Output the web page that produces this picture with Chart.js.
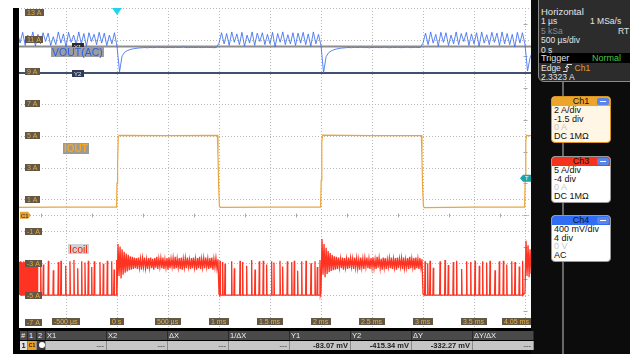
<!DOCTYPE html>
<html>
<head>
<meta charset="utf-8">
<script src="https://cdn.jsdelivr.net/npm/chart.js@4.4.1/dist/chart.umd.min.js"></script>
<style>
  body { margin: 0; width: 630px; height: 354px; position: relative; overflow: hidden; background: #fff;
         font-family: "Liberation Sans", Arial, sans-serif; }
  .abs { position: absolute; }
  #scope { position: absolute; left: 15px; top: 8px; width: 516px; height: 319px; }
  #lbar { left: 13px; top: 8px; width: 6px; height: 346px; background: #000; }
  #bottom { left: 13px; top: 328px; width: 520px; height: 26px; background: #000; }
  .name { font-size: 10.5px; line-height: 10px; padding: 0 1px; white-space: nowrap; }

  #side { left: 531px; top: 0; width: 99px; height: 354px; background: #0c0c0c; }
  #side .vline { left: 31px; top: 82px; width: 2px; height: 272px; background: #676767; }
  #hbox { left: 7px; top: -3px; width: 100px; height: 83px; background: #2c2c2c; border: 1px solid #8a8a8a;
          border-radius: 0 0 0 6px; color: #e4e4e4; font-size: 8.5px; }
  .hr { position: absolute; left: 2px; height: 10px; line-height: 10px; white-space: nowrap; }
  .trig { left: 0; top: 55px; width: 100px; height: 10px; line-height: 10px; background: #000; }
  .chbox { left: 20px; width: 58px; height: 45px; border: 1px solid #9a9a9a; border-radius: 4px; overflow: hidden;
           background: #fff; font-size: 9px; color: #111; }
  .chhead { position: relative; height: 9px; line-height: 9.5px; text-align: center; color: #111; }
  .minus { position: absolute; right: 1px; top: 1px; width: 12px; height: 7px; background: #5a84e8; border-radius: 2px; }
  .minus:after { content: ""; position: absolute; left: 3px; right: 3px; top: 3px; height: 1px; background: #fff; }
  .chbody div { padding-left: 2px; line-height: 8.7px; height: 8.7px; white-space: nowrap; }

  #tbl { left: 20px; top: 331px; width: 516px; height: 19px; font-size: 7.5px; }
  .cell { position: absolute; height: 9px; line-height: 9.5px; white-space: nowrap; overflow: hidden; box-sizing: border-box; }
  .hd { top: 0; background: #4a4a4a; color: #f0f0f0; padding-left: 1px; border-right: 1px solid #2a2a2a; }
  .vl { top: 9.5px; height: 9.5px; background: #c6c6c6; color: #222; text-align: right; padding-right: 2px;
        border-right: 1px solid #8a8a8a; font-weight: bold; }
</style>
</head>
<body>
<canvas id="scope" width="516" height="319"></canvas>
<div id="lbar" class="abs"></div>
<div id="bottom" class="abs"></div>

<div class="abs name" style="left:51px;top:47px;height:10px;background:#9d9d9d;color:#2c5fe6">VOUT(AC)</div>
<div class="abs name" style="left:63px;top:143px;height:11px;line-height:11px;background:#9a9a9a;color:#f5a623;font-weight:bold;font-size:10px">IOUT</div>
<div class="abs name" style="left:68px;top:244px;height:10px;background:#d2d2d2;color:#f21e0a">Icoil</div>

<div id="side" class="abs">
  <div class="abs vline"></div>
  <div id="hbox" class="abs">
    <div class="hr" style="top:9px;font-size:9.5px">Horizontal</div>
    <div class="hr" style="top:18px">1 µs</div><div class="hr" style="top:18px;left:51px">1 MSa/s</div>
    <div class="hr" style="top:27.5px;color:#8a8a8a">5 kSa</div><div class="hr" style="top:27.5px;left:79px">RT</div>
    <div class="hr" style="top:37px">500 µs/div</div>
    <div class="hr" style="top:47px">0 s</div>
    <div class="abs trig"><span style="padding-left:2px;font-size:9px">Trigger</span><span style="position:absolute;left:53px;color:#45c945;font-size:9px">Normal</span></div>
    <div class="hr" style="top:64.5px">Edge <svg width="9" height="8" style="vertical-align:-1px"><polyline points="0,7.5 4,7.5 4,0.5 9,0.5" stroke="#ddd" fill="none"/><polyline points="2,4 4,2 6,4" stroke="#ddd" fill="none"/></svg> <span style="color:#e3a032">Ch1</span></div>
    <div class="hr" style="top:73.5px">2.3323 A</div>
  </div>

  <div class="abs chbox" style="top:96px;border-color:#d9951e;background:#fff6e6">
    <div class="chhead" style="background:#eba42c">Ch1<span class="minus"></span></div>
    <div class="chbody"><div>2 A/div</div><div>-1.5 div</div><div style="color:#c8c8c8">0 A</div><div>DC 1MΩ</div></div>
  </div>
  <div class="abs chbox" style="top:156px">
    <div class="chhead" style="background:#f5321c">Ch3<span class="minus"></span></div>
    <div class="chbody"><div>5 A/div</div><div>-4 div</div><div style="color:#c8c8c8">0 A</div><div>DC 1MΩ</div></div>
  </div>
  <div class="abs chbox" style="top:215px">
    <div class="chhead" style="background:#2f6ef2">Ch4<span class="minus"></span></div>
    <div class="chbody"><div>400 mV/div</div><div>4 div</div><div style="color:#c8c8c8">0 V</div><div>AC</div></div>
  </div>
</div>

<div id="tbl" class="abs"></div>

<script>
// ---- channel settings (div units, 10 divisions high) ----
const ch1Scale = 2, ch1Pos = 3.5;      // IOUT   2 A/div, -1.5 div
const ch3Scale = 5, ch3Pos = 1;        // Icoil  5 A/div, -4 div
const ch4Scale = 400, ch4Pos = 9;      // VOUT   400 mV/div, 4 div (AC)
const trigLevel = 2.3323;              // A on Ch1
const cursorY1 = -83.07, cursorY2 = -415.34;   // mV on Ch4

// ---- axes ----
const gridTimes = [-1, -0.5, 0, 0.5, 1, 1.5, 2, 2.5, 3, 3.5, 4];      // ms, 500 us/div
const gridDivs = [0, 1, 2, 3, 4, 5, 6, 7, 8, 9, 10];
const timeTicks = [-0.5, 0, 0.5, 1, 1.5, 2, 2.5, 3, 3.5, 4];
const timeLabels = ['-500 µs', '0 s', '500 µs', '1 ms', '1.5 ms', '2 ms', '2.5 ms', '3 ms', '3.5 ms', '4.05 ms'];
const ch1Levels = [-7, -5, -3, -1, 1, 3, 5, 7, 9, 11, 13];

// ---- VOUT (AC), mV, sampled every 25 us from -1 ms ----
const voutStart = -1.0, voutStep = 0.025;
const voutMv = [
  // -1.0 .. 0 ms : PWM ripple
  -60, 80, -40, 95, -70, 60, -30, 100, -80, 70, -50, 90, -20, 85, -70, 40, -60, 100, -40, 75,
  -90, 95, -30, 60, -60, 100, -50, 80, -80, 90, -20, 70, -60, 95, -40, 85, -70, 60, -50, 90, -80,
  // 0 .. 1 ms : load step dip, then flat
  -400, -200, -155, -135, -122, -114, -108, -104, -100, -98, -96, -99, -94, -97, -95, -92, -96, -94, -98, -93,
  -95, -97, -92, -96, -94, -90, -95, -97, -93, -96, -94, -92, -97, -95, -93, -96, -94, -98, -95, -40,
  // 1 .. 2 ms : ripple
  90, -50, 80, -70, 100, -30, 75, -60, 95, -80, 60, -40, 100, -70, 85, -20, 90, -60, 70, -50,
  95, -90, 80, -30, 100, -60, 65, -50, 90, -70, 85, -40, 95, -60, 75, -80, 100, -50, 70, -70,
  // 2 .. 3 ms : dip, then flat
  -410, -210, -160, -138, -124, -115, -108, -103, -100, -97, -95, -98, -93, -96, -94, -92, -97, -95, -99, -94,
  -96, -93, -97, -95, -92, -96, -98, -94, -95, -93, -97, -96, -94, -92, -97, -95, -93, -96, -94, -40,
  // 3 .. 4 ms : ripple
  85, -60, 100, -40, 70, -80, 95, -30, 90, -70, 60, -50, 100, -60, 80, -20, 95, -70, 75, -50,
  90, -80, 100, -40, 65, -60, 95, -30, 85, -70, 100, -50, 80, -60, 70, -90, 95, -40, 90, -60,
  // 4 ms .. : dip
  -390, -220, -150
];

// ---- IOUT, A ----
const ioutT = [-1.0, -0.6, -0.2, -0.004, 0.0, 0.006, 0.012, 0.02, 0.5, 0.984, 0.99, 0.996, 1.004, 1.012, 1.5,
  1.996, 2.002, 2.008, 2.016, 2.5, 2.984, 2.99, 2.996, 3.004, 3.012, 3.5, 3.996, 4.002, 4.008, 4.016, 4.06];
const ioutA = [0.5, 0.52, 0.51, 0.52, 2.0, 3.2, 4.9, 5.02, 5.0, 5.02, 3.8, 2.0, 0.6, 0.5, 0.52,
  0.52, 2.2, 4.6, 5.03, 5.0, 5.0, 3.6, 1.8, 0.6, 0.49, 0.52, 0.52, 2.3, 4.7, 5.02, 5.0];

// ---- Icoil, A : DCM pulses (peak times / peaks) and CCM bands (every 10 us) ----
const pulsesAT = [-0.996, -0.984, -0.972, -0.96, -0.948, -0.936, -0.924, -0.912, -0.9, -0.888, -0.876, -0.864,
  -0.852, -0.84, -0.828, -0.816, -0.804, -0.792, -0.78,
  -0.748, -0.722, -0.673, -0.624, -0.575, -0.549, -0.503, -0.461, -0.422, -0.385, -0.346, -0.314, -0.281,
  -0.248, -0.222, -0.167, -0.134, -0.095, -0.052, -0.029, -0.003];
const pulsesAA = [5.2, 5.3, 5.1, 5.2, 5.3, 5.2, 5.1, 5.3, 5.2, 5.2, 5.3, 5.1, 5.2, 5.3, 5.2, 5.1, 5.3, 5.2, 5.3,
  5.3, 4.8, 5.4, 3.9, 5.2, 5.4, 4.6, 5.3, 5.5, 4.2, 5.3, 5.1, 5.4, 4.4, 5.3, 5.2, 4.9, 5.4, 5.3, 4.0, 5.5];
const band1 = [0.4, 8.0, 3.0, 7.6, 2.6, 7.2, 3.2, 6.8, 3.5, 6.5, 3.7, 6.3, 3.9, 6.1, 4.0, 6.0, 4.1, 5.9,
  4.2, 5.8, 4.1, 5.9, 4.3, 5.7, 4.0, 5.8, 4.4, 5.9, 4.2, 5.6, 4.1, 5.8, 4.3, 5.9, 4.2, 5.7, 4.0, 5.8,
  4.3, 6.0, 4.1, 5.7, 4.4, 5.8, 4.2, 5.9, 4.1, 5.6, 4.3, 5.8, 4.0, 5.9, 4.2, 5.7, 4.4, 5.8, 4.1, 6.0,
  4.2, 5.7, 4.3, 5.8, 4.1, 5.9, 4.0, 5.7, 4.3, 5.8, 4.2, 5.9, 4.4, 5.6, 4.1, 5.8, 4.2, 5.9, 4.3, 5.7,
  4.0, 5.8, 4.2, 6.0, 4.1, 5.7, 4.3, 5.8, 4.2, 5.9, 4.4, 5.7, 4.1, 5.8, 4.2, 5.9, 4.0, 5.7, 4.3, 5.8,
  4.2, 5.6, 0.2];
const pulsesBT = [1.010, 1.036, 1.059, 1.124, 1.150, 1.206, 1.232, 1.271, 1.320, 1.353, 1.395, 1.434, 1.467, 1.516,
  1.539, 1.598, 1.624, 1.670, 1.713, 1.738, 1.771, 1.811, 1.853, 1.902, 1.941, 1.964, 1.990];
const pulsesBA = [5.4, 5.2, 4.9, 5.3, 4.2, 5.4, 5.2, 4.6, 5.5, 4.0, 5.3, 5.4, 4.8, 5.3, 5.1, 5.4, 4.5, 5.3, 5.2, 5.4,
  3.8, 5.3, 5.4, 5.0, 5.3, 4.4, 5.5];
const band2 = [0.4, 8.8, 3.2, 8.0, 2.8, 7.4, 3.3, 6.9, 3.6, 6.6, 3.8, 6.3, 3.9, 6.1, 4.0, 6.0, 4.1, 5.9,
  4.3, 5.7, 4.2, 5.9, 4.0, 5.8, 4.3, 5.7, 4.1, 5.9, 4.2, 5.8, 4.4, 5.7, 4.1, 5.9, 4.3, 5.8, 4.2, 5.6,
  4.0, 5.9, 4.3, 5.7, 4.1, 5.8, 4.4, 5.9, 4.2, 5.7, 4.1, 5.8, 4.3, 5.9, 4.2, 5.6, 4.1, 6.0, 4.3, 5.8,
  4.2, 5.7, 4.0, 5.9, 4.3, 5.8, 4.1, 5.6, 4.4, 5.8, 4.2, 5.9, 4.1, 5.7, 4.3, 5.8, 4.0, 5.9, 4.2, 5.7,
  4.4, 5.8, 4.1, 5.9, 4.2, 5.6, 4.3, 5.8, 4.1, 6.0, 4.2, 5.7, 4.3, 5.8, 4.0, 5.9, 4.2, 5.7, 4.1, 5.8,
  4.3, 5.6, 0.2];
const pulsesCT = [3.020, 3.046, 3.069, 3.101, 3.167, 3.216, 3.248, 3.297, 3.330, 3.379, 3.428, 3.468, 3.510, 3.552,
  3.585, 3.624, 3.657, 3.706, 3.748, 3.788, 3.821, 3.870, 3.902, 3.944, 3.977];
const pulsesCA = [5.3, 5.0, 5.4, 4.3, 5.3, 5.5, 4.7, 5.2, 5.4, 4.1, 5.3, 5.2, 5.4, 4.6, 5.3, 5.1, 5.4, 3.9, 5.3, 5.4,
  4.8, 5.3, 5.2, 4.5, 5.4];
const band3 = [0.4, 8.5, 3.0, 7.8, 2.8, 7.2, 3.3];
const bandStep = 0.01;

// ---- cursor table ----
const cursorHeads = ['X1', 'X2', 'ΔX', '1/ΔX', 'Y1', 'Y2', 'ΔY', 'ΔY/ΔX'];
const cursorVals = ['---', '---', '---', '---', '-83.07 mV', '-415.34 mV', '-332.27 mV', '---'];

// build the Icoil trace
const icoilPts = [{ x: -1.0, y: 0 }];
function addPulses(times, amps) {
  times.forEach((t, i) => {
    icoilPts.push({ x: t - 0.004, y: 0 }, { x: t, y: amps[i] }, { x: t + 0.004, y: 0 });
  });
}
function addBand(t0, vals) {
  vals.forEach((v, i) => icoilPts.push({ x: t0 + i * bandStep, y: v }));
}
addPulses(pulsesAT, pulsesAA);
addBand(0, band1);
addPulses(pulsesBT, pulsesBA);
addBand(2, band2);
addPulses(pulsesCT, pulsesCA);
addBand(4, band3);

const icoilDiv = icoilPts.map(p => ({ x: p.x, y: ch3Pos + p.y / ch3Scale }));
const ioutDiv = ioutT.map((t, i) => ({ x: t, y: ch1Pos + ioutA[i] / ch1Scale }));
const voutDiv = voutMv.map((v, i) => ({ x: voutStart + i * voutStep, y: ch4Pos + v / ch4Scale }));

function tagBox(ctx, text, x, cy, bg, fg, center) {
  const w = Math.ceil(ctx.measureText(text).width) + 4, h = 7;
  let left = center ? x - w / 2 : x;
  left = Math.round(Math.max(1, Math.min(left, ctx.canvas.width - w)));
  const top = Math.round(cy - h / 2);
  ctx.fillStyle = bg;
  ctx.fillRect(left, top, w, h);
  ctx.fillStyle = fg;
  ctx.fillText(text, left + 2, top + h / 2 + 0.5);
}

// grid, cursors, markers and scope labels
const scopeDecor = {
  id: 'scopeDecor',
  beforeDatasetsDraw(chart) {
    const { ctx, chartArea: a, scales: { x, y } } = chart;
    ctx.save();
    ctx.lineWidth = 1;
    ctx.strokeStyle = '#b8b8b8';
    ctx.setLineDash([1, 2]);
    gridTimes.forEach(t => {
      const px = Math.round(x.getPixelForValue(t)) + 0.5;
      ctx.beginPath(); ctx.moveTo(px, a.top); ctx.lineTo(px, a.bottom); ctx.stroke();
    });
    gridDivs.forEach(d => {
      const py = Math.round(y.getPixelForValue(d)) + 0.5;
      ctx.beginPath(); ctx.moveTo(a.left, py); ctx.lineTo(a.right, py); ctx.stroke();
    });
    // Ch1 reference line with half-division ticks
    const gy = Math.round(y.getPixelForValue(ch1Pos)) + 0.5;
    ctx.beginPath(); ctx.moveTo(a.left, gy); ctx.lineTo(a.right, gy); ctx.stroke();
    ctx.setLineDash([]);
    ctx.strokeStyle = '#a8a8a8';
    for (let t = -0.75; t < 4; t += 0.5) {
      const px = Math.round(x.getPixelForValue(t)) + 0.5;
      ctx.beginPath(); ctx.moveTo(px, gy - 2); ctx.lineTo(px, gy + 2); ctx.stroke();
    }
    const rx = Math.round(x.getPixelForValue(4)) + 0.5;
    for (let d = 0.5; d < 10; d += 1) {
      const py = Math.round(y.getPixelForValue(d)) + 0.5;
      ctx.beginPath(); ctx.moveTo(rx - 2, py); ctx.lineTo(rx + 2, py); ctx.stroke();
    }
    // horizontal cursors
    ctx.lineWidth = 2;
    ctx.strokeStyle = '#8e8e8e';
    let cy = y.getPixelForValue(ch4Pos + cursorY1 / ch4Scale);
    ctx.beginPath(); ctx.moveTo(a.left, cy); ctx.lineTo(a.right, cy); ctx.stroke();
    ctx.strokeStyle = '#40506e';
    cy = y.getPixelForValue(ch4Pos + cursorY2 / ch4Scale);
    ctx.beginPath(); ctx.moveTo(a.left, cy); ctx.lineTo(a.right, cy); ctx.stroke();
    ctx.restore();
  },
  afterDatasetsDraw(chart) {
    const { ctx, chartArea: a, scales: { x, y } } = chart;
    ctx.save();
    ctx.font = '7px "Liberation Sans", Arial, sans-serif';
    ctx.textBaseline = 'middle';
    // Ch1 level labels
    ch1Levels.forEach(v => {
      let py = y.getPixelForValue(ch1Pos + v / ch1Scale);
      py = Math.max(a.top + 4, Math.min(py, a.bottom - 4.5));
      tagBox(ctx, v + ' A', 10, py, '#615848', '#e8a740', false);
    });
    // time labels
    timeTicks.forEach((t, i) => {
      tagBox(ctx, timeLabels[i], x.getPixelForValue(t), a.bottom - 5.5, '#615848', '#eeb040', true);
    });
    // cursor tags
    ctx.font = '6px "Liberation Sans", Arial, sans-serif';
    tagBox(ctx, 'Y1', 57, y.getPixelForValue(ch4Pos + cursorY1 / ch4Scale), '#2c2c2c', '#eee', false);
    tagBox(ctx, 'Y2', 57, y.getPixelForValue(ch4Pos + cursorY2 / ch4Scale), '#2e3a58', '#eee', false);
    // trigger position marker
    const tx = x.getPixelForValue(0);
    ctx.fillStyle = '#22d3e6';
    ctx.beginPath(); ctx.moveTo(tx - 5, 0); ctx.lineTo(tx + 5, 0); ctx.lineTo(tx, 7); ctx.closePath(); ctx.fill();
    // Ch1 offset marker
    const gy = y.getPixelForValue(ch1Pos);
    ctx.fillStyle = '#e6a030';
    ctx.beginPath();
    ctx.moveTo(5, gy - 3.5); ctx.lineTo(13, gy - 3.5); ctx.lineTo(16, gy); ctx.lineTo(13, gy + 3.5); ctx.lineTo(5, gy + 3.5);
    ctx.closePath(); ctx.fill();
    ctx.fillStyle = '#222';
    ctx.fillText('C1', 6, gy + 0.5);
    // trigger level marker
    const ty = y.getPixelForValue(ch1Pos + trigLevel / ch1Scale);
    const tr = x.getPixelForValue(4);
    ctx.fillStyle = '#1aa5a8';
    ctx.beginPath();
    ctx.moveTo(tr - 5, ty); ctx.lineTo(tr - 2, ty - 3.5); ctx.lineTo(tr + 6, ty - 3.5); ctx.lineTo(tr + 6, ty + 3.5); ctx.lineTo(tr - 2, ty + 3.5);
    ctx.closePath(); ctx.fill();
    ctx.fillStyle = '#fff';
    ctx.fillText('T', tr, ty + 0.5);
    ctx.restore();
  }
};

Chart.defaults.font.family = '"Liberation Sans", Arial, sans-serif';

new Chart(document.getElementById('scope'), {
  type: 'line',
  data: {
    datasets: [
      { label: 'Icoil', data: icoilDiv, borderColor: 'rgba(255, 34, 14, 0.92)', borderWidth: 1.3 },
      { label: 'IOUT', data: ioutDiv, borderColor: '#eaa53c', borderWidth: 1.2 },
      { label: 'VOUT(AC)', data: voutDiv, borderColor: 'rgba(60, 110, 242, 0.85)', borderWidth: 1 }
    ]
  },
  options: {
    responsive: false,
    animation: false,
    devicePixelRatio: 1,
    layout: { padding: 0 },
    elements: { point: { radius: 0 }, line: { tension: 0 } },
    plugins: { legend: { display: false }, tooltip: { enabled: false } },
    scales: {
      x: { type: 'linear', min: -1, max: 4.0588, display: false },
      y: { min: 0, max: 10, display: false }
    }
  },
  plugins: [scopeDecor]
});

// cursor results table
const tbl = document.getElementById('tbl');
function cell(cls, left, width, text, extra) {
  const d = document.createElement('div');
  d.className = 'cell ' + cls;
  d.style.left = left + 'px';
  d.style.width = width + 'px';
  d.textContent = text;
  if (extra) Object.assign(d.style, extra);
  tbl.appendChild(d);
  return d;
}
cell('hd', 0, 8, '#');
cell('hd', 8, 9, '1');
cell('hd', 17, 9, '2');
cell('vl', 0, 8, '1', { background: '#e2e2e2', textAlign: 'center', padding: '0' });
cell('vl', 8, 9, 'C1', { background: '#e8a020', textAlign: 'center', padding: '0', fontSize: '5px' });
const ic = cell('vl', 17, 9, '', { background: '#3a3a3a' });
ic.innerHTML = '<span style="position:absolute;left:1.5px;top:1.5px;width:6px;height:6px;border-radius:50%;background:#fff;border:0"></span>';
cursorHeads.forEach((h, i) => {
  cell('hd', 26 + i * 61, 61, h);
  cell('vl', 26 + i * 61, 61, cursorVals[i], cursorVals[i] === '---' ? { color: '#6a6a6a' } : null);
});
</script>
</body>
</html>
